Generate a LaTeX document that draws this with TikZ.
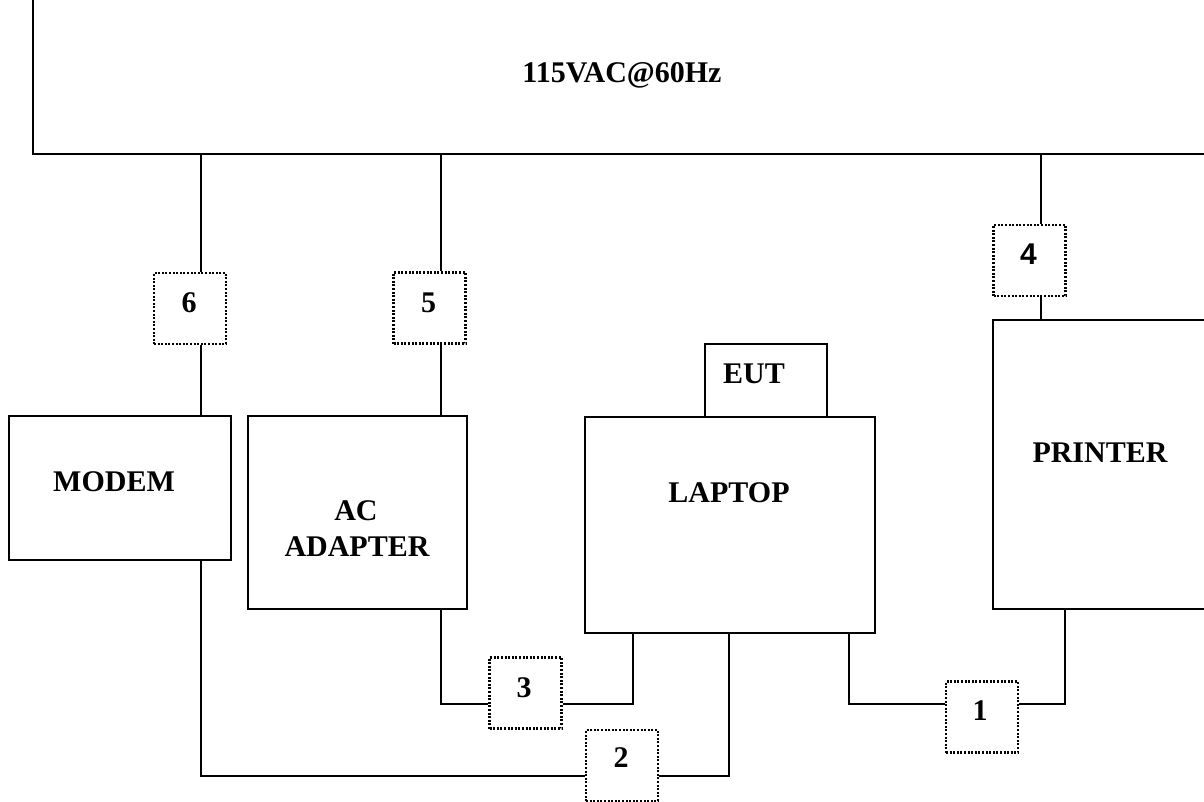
\documentclass[tikz,border=0pt]{standalone}
\usepackage{fontspec}
\setmainfont{Liberation Serif}
\newfontfamily\sansnum{Liberation Sans}
\begin{document}
\begin{tikzpicture}[x=1pt,y=-1pt,
  solidbox/.style={draw,line width=2.3pt,inner sep=0pt},
  dotbox/.style={draw,line width=2.2pt,dash pattern=on 2pt off 1.6pt,inner sep=0pt,minimum width=72pt,minimum height=71pt},
  lbl/.style={font=\fontsize{30}{34}\selectfont\bfseries,inner sep=0pt,anchor=base},
  wire/.style={line width=2.3pt}]
\clip (0,0) rectangle (1204,801);
% main boxes
\node[solidbox,minimum width=1207pt,minimum height=164pt] (top) at (636.5,72) {};
\node[solidbox,minimum width=222pt,minimum height=144pt] (modem) at (120,488) {};
\node[solidbox,minimum width=219pt,minimum height=193pt] (adapter) at (357.5,512.5) {};
\node[solidbox,minimum width=290pt,minimum height=216pt] (laptop) at (730,525) {};
\node[solidbox,minimum width=122pt,minimum height=73pt] (eut) at (766,380.5) {};
\node[solidbox,minimum width=247pt,minimum height=289pt] (printer) at (1116.5,464.5) {};
% texts
\node[lbl] at (622,82) {115VAC@60Hz};
\node[lbl] at (114,491) {MODEM};
\node[lbl] at (356,520) {AC};
\node[lbl] at (357,556) {ADAPTER};
\node[lbl] at (729,502) {LAPTOP};
\node[lbl] at (1100,462) {PRINTER};
\node[lbl] at (754,383) {EUT};
% dotted boxes
\node[dotbox] (b6) at (190,308.5) {};
\node[dotbox] (b5) at (429.5,308) {};
\node[dotbox] (b4) at (1029.5,260.5) {};
\node[dotbox] (b3) at (525.5,693) {};
\node[dotbox] (b2) at (622,765.5) {};
\node[dotbox] (b1) at (982,717) {};
\node[lbl] at (189,312) {6};
\node[lbl] at (428.5,312) {5};
\node[lbl,font=\sansnum\fontsize{30}{34}\selectfont\bfseries] at (1028.5,264) {4};
\node[lbl] at (524,697) {3};
\node[lbl] at (621,767) {2};
\node[lbl] at (980,720) {1};
% wire coordinates
\coordinate (x6) at (201,0);
\coordinate (x5) at (441,0);
\coordinate (x4) at (1041,0);
\coordinate (x3) at (633,0);
\coordinate (x2) at (729,0);
\coordinate (x1a) at (849,0);
\coordinate (x1b) at (1065,0);
\coordinate (y3) at (0,704);
\coordinate (y2) at (0,776);
\coordinate (y1) at (0,704);
% connectors
\draw[wire] (top.south -| x6) -- (b6.north -| x6);
\draw[wire] (b6.south -| x6) -- (modem.north -| x6);
\draw[wire] (top.south -| x5) -- (b5.north -| x5);
\draw[wire] (b5.south -| x5) -- (adapter.north -| x5);
\draw[wire] (top.south -| x4) -- (b4.north -| x4);
\draw[wire] (b4.south -| x4) -- (printer.north -| x4);
\draw[wire] (adapter.south -| x5) |- (b3.west |- y3);
\draw[wire] (b3.east |- y3) -| (laptop.south -| x3);
\draw[wire] (modem.south -| x6) |- (b2.west |- y2);
\draw[wire] (b2.east |- y2) -| (laptop.south -| x2);
\draw[wire] (laptop.south -| x1a) |- (b1.west |- y1);
\draw[wire] (b1.east |- y1) -| (printer.south -| x1b);
\end{tikzpicture}
\end{document}
